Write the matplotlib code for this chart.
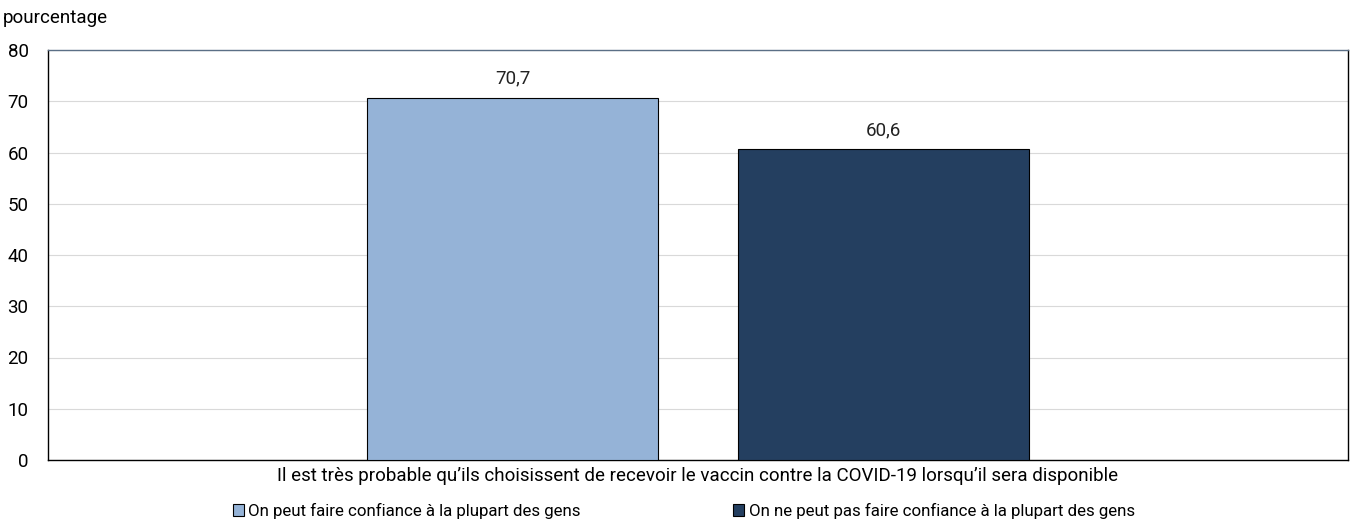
import matplotlib.pyplot as plt
from matplotlib.patches import Patch

plt.rcParams['font.family'] = ['Roboto', 'DejaVu Sans']

category = "Il est très probable qu’ils choisissent de recevoir le vaccin contre la COVID-19 lorsqu’il sera disponible"
series = ["On peut faire confiance à la plupart des gens",
          "On ne peut pas faire confiance à la plupart des gens"]
values = [70.7, 60.6]
colors = ["#95B3D7", "#243F60"]
yticks = [0, 10, 20, 30, 40, 50, 60, 70, 80]

fig = plt.figure(figsize=(13.51, 5.25), dpi=100)
ax = fig.add_axes([48 / 1351, 1 - 460 / 525, 1300 / 1351, 410 / 525])

offsets = [-0.1425, 0.1425]
width = 0.224
for off, v, c, lab in zip(offsets, values, colors, series):
    ax.bar(off, v, width, color=c, edgecolor="black", linewidth=0.8, label=lab, zorder=3)
    ax.text(off, v + 2, f"{v:.1f}".replace(".", ","), ha="center", va="bottom",
            fontsize=13.5, color="#222222")

ax.set_xlim(-0.5, 0.5)
ax.set_ylim(0, 80)
ax.set_yticks(yticks)
ax.set_yticklabels([str(t) for t in yticks], fontsize=13.5)
ax.set_xticks([0])
ax.set_xticklabels([category], fontsize=13.5)
ax.tick_params(axis="both", length=0, pad=14)
ax.tick_params(axis="x", pad=5)
ax.grid(axis="y", color="#d9d9d9", linewidth=0.8, zorder=0)
for s in ["left", "bottom", "right"]:
    ax.spines[s].set_color("black")
    ax.spines[s].set_linewidth(1)
ax.spines["top"].set_color("#5b6f86")
ax.spines["top"].set_linewidth(1)

fig.text(3 / 1351, 1 - 18 / 525, "pourcentage", fontsize=13.5, va="center", ha="left")

handles = [Patch(facecolor=c, edgecolor="black", linewidth=0.8) for c in colors]
fig.legend(handles, series, loc="center", bbox_to_anchor=(684 / 1351, 1 - 511 / 525), ncol=2,
           frameon=False, fontsize=12.2, handlelength=0.65, handleheight=0.65,
           handletextpad=0.25, columnspacing=9.0, borderpad=0, borderaxespad=0)

fig.savefig("out.png", dpi=100)
